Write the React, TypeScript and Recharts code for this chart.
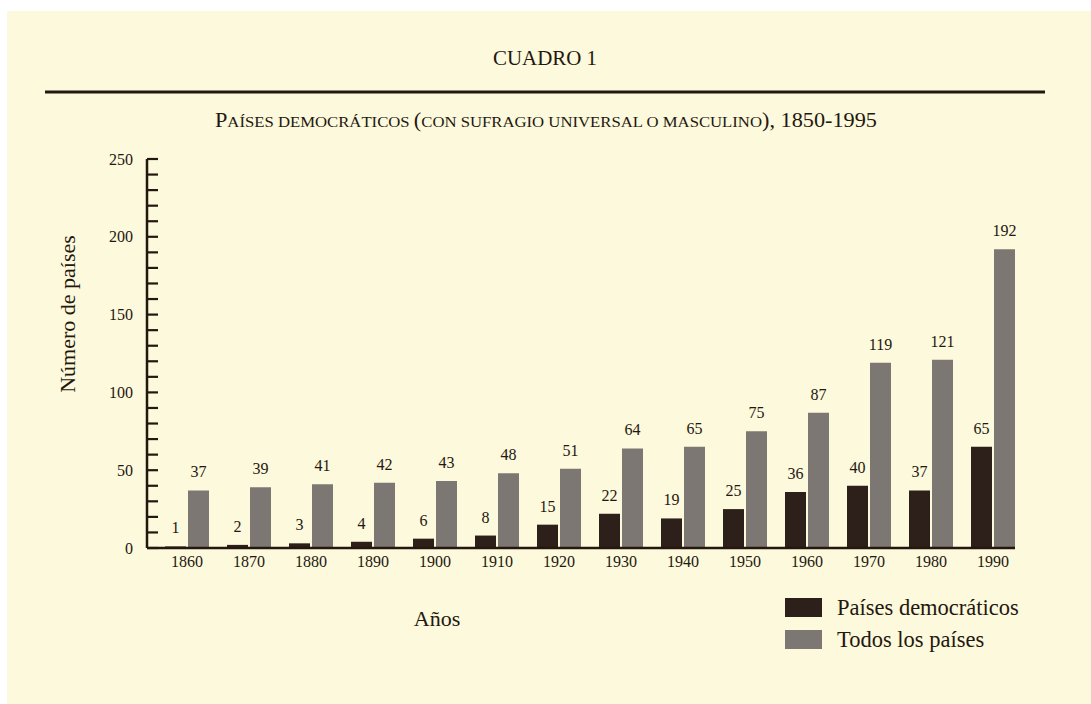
import { BarChart, Bar, XAxis, YAxis, LabelList } from 'recharts';

const years = ['1860', '1870', '1880', '1890', '1900', '1910', '1920', '1930', '1940', '1950', '1960', '1970', '1980', '1990'];
const democraticCountries = [1, 2, 3, 4, 6, 8, 15, 22, 19, 25, 36, 40, 37, 65];
const allCountries = [37, 39, 41, 42, 43, 48, 51, 64, 65, 75, 87, 119, 121, 192];
const yTicks = Array.from({ length: 26 }, (_, i) => i * 10);

const INK = '#24170f';
const DARK = '#2d1f19';
const GREY = '#7c7772';
const PAPER = '#fcf9dc';
const SERIF = '"Liberation Serif", "DejaVu Serif", serif';

const data = years.map((y, i) => ({
  year: y,
  dem: democraticCountries[i],
  all: allCountries[i],
}));

const legendItems = [
  { label: 'Países democráticos', color: DARK },
  { label: 'Todos los países', color: GREY },
];

function YTick(props: any) {
  const { x, y, payload } = props;
  return (
    <g>
      <line x1={x} x2={x + 11} y1={y} y2={y} stroke={INK} strokeWidth={2.2} />
      {payload.value % 50 === 0 && (
        <text x={x - 14} y={y} textAnchor="end" dominantBaseline="central" fontSize={16} fill={INK} fontFamily={SERIF}>
          {payload.value}
        </text>
      )}
    </g>
  );
}

export default function App() {
  return (
    <div style={{ position: 'absolute', left: 0, top: 0, width: 1091, height: 704, background: '#ffffff', overflow: 'hidden' }}>
      <div style={{ position: 'absolute', left: 7, top: 11, right: 0, bottom: 0, background: PAPER }} />
      <svg width={1091} height={704} style={{ position: 'absolute', left: 0, top: 0 }}>
        <text x={545} y={65} textAnchor="middle" fontSize={22} fill={INK} fontFamily={SERIF} textLength={104} lengthAdjust="spacingAndGlyphs">
          CUADRO 1
        </text>
        <line x1={45} x2={1045} y1={92} y2={92} stroke={INK} strokeWidth={3} />
        <text x={215} y={127} fontSize={15} fill={INK} fontFamily={SERIF} textLength={662} lengthAdjust="spacingAndGlyphs">
          <tspan fontSize={20}>P</tspan>
          <tspan>AÍSES DEMOCRÁTICOS </tspan>
          <tspan fontSize={20}>(</tspan>
          <tspan>CON SUFRAGIO UNIVERSAL O MASCULINO</tspan>
          <tspan fontSize={20}>), 1850-1995</tspan>
        </text>
        <text x={0} y={0} transform="translate(75, 314) rotate(-90)" textAnchor="middle" fontSize={22} fill={INK} fontFamily={SERIF}>
          Número de países
        </text>
        <text x={437} y={626} textAnchor="middle" fontSize={22} fill={INK} fontFamily={SERIF}>
          Años
        </text>
        {legendItems.map((it, i) => (
          <g key={it.label}>
            <rect x={785} y={598 + i * 32} width={37} height={19} fill={it.color} />
            <text x={837} y={615 + i * 32} fontSize={22.5} fill={INK} fontFamily={SERIF}>
              {it.label}
            </text>
          </g>
        ))}
      </svg>
      <div style={{ position: 'absolute', left: 0, top: 0 }}>
        <BarChart
          width={1091}
          height={704}
          data={data}
          margin={{ top: 159, right: 76, bottom: 126, left: 0 }}
          barSize={21}
          barGap={2}
        >
          <XAxis
            dataKey="year"
            padding={{ left: 9, right: -9 }}
            axisLine={{ stroke: INK, strokeWidth: 2.5 }}
            tickLine={false}
            tickSize={0}
            tickMargin={8}
            height={30}
            interval={0}
            tick={{ fontSize: 16, fill: INK, fontFamily: SERIF }}
          />
          <YAxis
            domain={[0, 250]}
            ticks={yTicks}
            interval={0}
            width={147}
            axisLine={{ stroke: INK, strokeWidth: 2.5 }}
            tickLine={false}
            tickSize={0}
            tickMargin={0}
            tick={<YTick />}
          />
          <Bar dataKey="dem" name="Países democráticos" fill={DARK} isAnimationActive={false}>
            <LabelList dataKey="dem" position="top" offset={13} fontSize={16} fill={INK} fontFamily={SERIF} />
          </Bar>
          <Bar dataKey="all" name="Todos los países" fill={GREY} isAnimationActive={false}>
            <LabelList dataKey="all" position="top" offset={13} fontSize={16} fill={INK} fontFamily={SERIF} />
          </Bar>
        </BarChart>
      </div>
    </div>
  );
}
